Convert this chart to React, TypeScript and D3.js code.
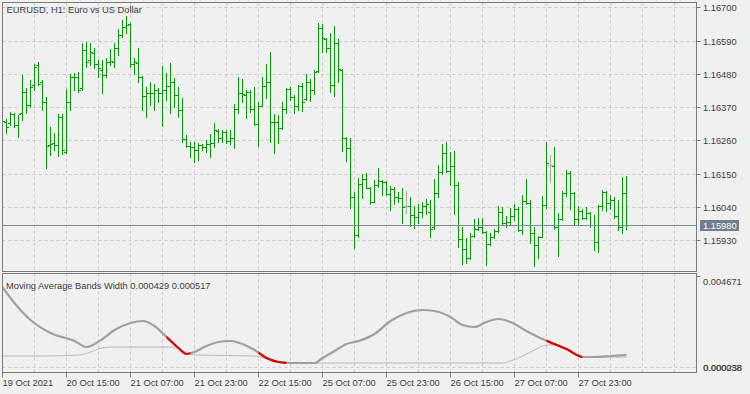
import React from "react";
import * as d3 from "d3";

const opens = [1.16316,1.16321,1.16316,1.16347,1.16310,1.16349,1.16421,1.16377,1.16443,1.16509,1.16454,1.16388,1.16244,1.16250,1.16244,1.16336,1.16222,1.16388,1.16470,1.16468,1.16432,1.16559,1.16526,1.16548,1.16514,1.16492,1.16476,1.16520,1.16520,1.16564,1.16608,1.16636,1.16645,1.16514,1.16517,1.16470,1.16406,1.16415,1.16417,1.16426,1.16415,1.16426,1.16439,1.16454,1.16410,1.16360,1.16266,1.16241,1.16239,1.16228,1.16244,1.16239,1.16247,1.16250,1.16291,1.16267,1.16289,1.16258,1.16267,1.16364,1.16416,1.16410,1.16421,1.16364,1.16313,1.16375,1.16441,1.16454,1.16320,1.16322,1.16302,1.16364,1.16430,1.16405,1.16372,1.16441,1.16397,1.16454,1.16427,1.16490,1.16633,1.16596,1.16567,1.16443,1.16581,1.16493,1.16267,1.16236,1.16074,1.15947,1.16114,1.16132,1.16103,1.16057,1.16112,1.16125,1.16121,1.16081,1.16099,1.16074,1.16070,1.16044,1.16044,1.16013,1.16007,1.16024,1.16044,1.16024,1.15974,1.16084,1.16156,1.16219,1.16159,1.16175,1.16112,1.15933,1.15899,1.15869,1.15943,1.15968,1.15974,1.15957,1.15917,1.15941,1.15961,1.16024,1.15985,1.15991,1.16009,1.16031,1.15963,1.16060,1.16053,1.15952,1.15913,1.15941,1.16046,1.16178,1.16175,1.15972,1.15998,1.16087,1.16153,1.16087,1.15998,1.16027,1.16002,1.16020,1.15980,1.15924,1.16042,1.16090,1.16053,1.16064,1.16009,1.15974,1.16084];
const highs = [1.16332,1.16329,1.16354,1.16351,1.16343,1.16476,1.16432,1.16459,1.16514,1.16518,1.16459,1.16402,1.16305,1.16283,1.16347,1.16347,1.16430,1.16481,1.16484,1.16487,1.16581,1.16586,1.16581,1.16564,1.16526,1.16526,1.16531,1.16561,1.16581,1.16630,1.16658,1.16671,1.16649,1.16531,1.16564,1.16472,1.16437,1.16454,1.16448,1.16432,1.16506,1.16484,1.16517,1.16465,1.16435,1.16399,1.16277,1.16255,1.16255,1.16250,1.16247,1.16261,1.16281,1.16316,1.16298,1.16294,1.16294,1.16294,1.16379,1.16468,1.16463,1.16427,1.16427,1.16438,1.16388,1.16471,1.16512,1.16551,1.16346,1.16344,1.16388,1.16434,1.16438,1.16410,1.16443,1.16449,1.16479,1.16463,1.16493,1.16647,1.16644,1.16598,1.16614,1.16640,1.16596,1.16496,1.16272,1.16269,1.16090,1.16134,1.16148,1.16151,1.16107,1.16129,1.16167,1.16129,1.16125,1.16110,1.16107,1.16090,1.16101,1.16092,1.16074,1.16044,1.16048,1.16057,1.16066,1.16062,1.16131,1.16178,1.16248,1.16255,1.16222,1.16226,1.16123,1.15972,1.15935,1.15954,1.15998,1.16002,1.16002,1.15960,1.15952,1.15965,1.16042,1.16040,1.16009,1.16035,1.16049,1.16038,1.16079,1.16131,1.16062,1.15972,1.15943,1.16076,1.16255,1.16211,1.16237,1.16018,1.16093,1.16162,1.16159,1.16090,1.16042,1.16031,1.16040,1.16024,1.16013,1.16046,1.16095,1.16093,1.16079,1.16073,1.16062,1.16140,1.16142];
const lows = [1.16292,1.16285,1.16310,1.16305,1.16272,1.16327,1.16349,1.16371,1.16426,1.16443,1.16360,1.16167,1.16211,1.16228,1.16208,1.16214,1.16217,1.16360,1.16426,1.16421,1.16428,1.16503,1.16509,1.16498,1.16470,1.16415,1.16470,1.16509,1.16503,1.16542,1.16603,1.16614,1.16503,1.16481,1.16454,1.16360,1.16338,1.16377,1.16362,1.16388,1.16307,1.16393,1.16351,1.16371,1.16338,1.16255,1.16239,1.16206,1.16189,1.16194,1.16228,1.16222,1.16206,1.16239,1.16254,1.16256,1.16250,1.16247,1.16234,1.16350,1.16386,1.16335,1.16353,1.16311,1.16242,1.16372,1.16401,1.16254,1.16217,1.16250,1.16298,1.16350,1.16394,1.16350,1.16361,1.16357,1.16394,1.16390,1.16412,1.16487,1.16551,1.16554,1.16419,1.16408,1.16452,1.16225,1.16192,1.16035,1.15905,1.15941,1.16070,1.16101,1.16048,1.16055,1.16107,1.16079,1.16079,1.16029,1.16048,1.16055,1.15985,1.16018,1.15978,1.15969,1.15985,1.16007,1.16015,1.15939,1.15968,1.16073,1.16150,1.16156,1.16112,1.16016,1.15906,1.15850,1.15855,1.15866,1.15941,1.15963,1.15954,1.15847,1.15913,1.15935,1.15957,1.15980,1.15974,1.15980,1.15996,1.15961,1.15950,1.16049,1.15919,1.15844,1.15869,1.15939,1.16035,1.16123,1.15968,1.15877,1.15996,1.16076,1.16031,1.15983,1.15983,1.15998,1.15998,1.15972,1.15897,1.15891,1.16029,1.16027,1.16031,1.16002,1.15963,1.15952,1.15968];
const closes = [1.16325,1.16303,1.16347,1.16310,1.16347,1.16421,1.16377,1.16437,1.16503,1.16448,1.16388,1.16241,1.16247,1.16244,1.16336,1.16228,1.16388,1.16470,1.16468,1.16426,1.16559,1.16520,1.16553,1.16514,1.16498,1.16476,1.16520,1.16523,1.16564,1.16608,1.16636,1.16641,1.16514,1.16520,1.16470,1.16406,1.16415,1.16417,1.16426,1.16415,1.16426,1.16439,1.16454,1.16410,1.16360,1.16266,1.16241,1.16239,1.16228,1.16244,1.16239,1.16247,1.16250,1.16294,1.16267,1.16289,1.16258,1.16267,1.16364,1.16416,1.16412,1.16421,1.16364,1.16313,1.16372,1.16441,1.16454,1.16320,1.16322,1.16302,1.16364,1.16430,1.16405,1.16372,1.16441,1.16386,1.16454,1.16427,1.16485,1.16633,1.16598,1.16567,1.16443,1.16581,1.16496,1.16267,1.16236,1.16074,1.15947,1.16114,1.16132,1.16103,1.16055,1.16112,1.16125,1.16121,1.16081,1.16099,1.16074,1.16070,1.16040,1.16044,1.16013,1.16007,1.16024,1.16044,1.16048,1.15968,1.16084,1.16156,1.16219,1.16159,1.16175,1.16112,1.15933,1.15899,1.15869,1.15943,1.15968,1.15974,1.15957,1.15917,1.15941,1.15961,1.16024,1.15985,1.15991,1.16009,1.16031,1.15963,1.16060,1.16053,1.15952,1.15913,1.15941,1.16046,1.16184,1.16178,1.15972,1.15998,1.16087,1.16153,1.16087,1.15998,1.16027,1.16002,1.16020,1.15980,1.15924,1.16042,1.16090,1.16053,1.16064,1.16009,1.15974,1.16084,1.15980];

const priceTicks = [1.167, 1.1659, 1.1648, 1.1637, 1.1626, 1.1615, 1.1604, 1.1593];
const timeLabels = ["19 Oct 2021","20 Oct 15:00","21 Oct 07:00","21 Oct 23:00","22 Oct 15:00","25 Oct 07:00","25 Oct 23:00","26 Oct 15:00","27 Oct 07:00","27 Oct 23:00"];

// indicator samples (bar index, value)
const bwBars = [0,3,7,12,18,21,25,28,32,35,38,41,44,46,48,51,54,57,60,63,66,69,72,78,80,83,86,89,93,97,101,105,108,112,115,118,121,124,127,131,135,138,141,145,148,152,156];
const bwValues = [0.004164,0.003392,0.002572,0.001944,0.001558,0.001269,0.001655,0.002089,0.002427,0.002523,0.002282,0.001751,0.001220,0.000931,0.001027,0.001317,0.001510,0.001558,0.001413,0.001124,0.000738,0.000545,0.000496,0.000496,0.000738,0.001076,0.001413,0.001558,0.001896,0.002523,0.002909,0.003054,0.003006,0.002716,0.002330,0.002234,0.002475,0.002620,0.002475,0.002041,0.001655,0.001413,0.001172,0.000786,0.000786,0.000834,0.000883];
const sigBars = [0,10,19,22,24,27,42,45,48,63,67,70,125,127,130,133,136,138,142,146,156];
const sigValues = [0.000834,0.000834,0.000883,0.001027,0.001172,0.001269,0.001269,0.001076,0.000883,0.000834,0.000641,0.000496,0.000496,0.000593,0.000834,0.001124,0.001365,0.001365,0.001076,0.000786,0.000786];
const redRanges = [[41, 47], [64, 71], [136, 145]];

const W = 750, H = 394;
const L = 2.5, R = 696.5, T = 2.5, MB = 271.5, LT = 273.5, LB = 372.5;
const FONT = "'Liberation Sans', Arial, sans-serif";
const FS = 9.3;
const TXT = "#3c3c3c";
const GRID = "#c8c8c8";
const FRAME = "#7a7a7a";
const BAR = "#0a960a";

export default function App() {
  const n = closes.length;
  const x = d3.scaleLinear().domain([0, n - 1]).range([2.5, 2.5 + 4 * (n - 1)]);
  const y = d3.scaleLinear().domain([1.1593, 1.167]).range([240, 7.4]);
  const yi = d3.scaleLinear().domain([0.000038, 0.004671]).range([LB, 276.5]);
  const gridBars = d3.range(8, 180, 8).filter((b) => x(b) < R);
  const lineGen = d3.line<number>().x((_, i) => x(bwBars[i])).y((v) => yi(v)).curve(d3.curveMonotoneX);
  const sigGen = d3.line<number>().x((_, i) => x(sigBars[i])).y((v) => yi(v)).curve(d3.curveMonotoneX);
  const bwPath = lineGen(bwValues) || "";
  const sigPath = sigGen(sigValues) || "";
  const last = closes[n - 1];
  const ly = Math.round(y(last)) + 0.5;

  return (
    <svg width={W} height={H} style={{ position: "absolute", left: 0, top: 0, background: "#f0f0f0" }} fontFamily={FONT} fontSize={FS}>
      <defs>
        <clipPath id="mainClip"><rect x={L} y={T} width={R - L} height={MB - T} /></clipPath>
        <clipPath id="lowClip"><rect x={L} y={LT} width={R - L} height={LB - LT} /></clipPath>
        <clipPath id="redClip">
          {redRanges.map((r, k) => (
            <rect key={k} x={x(r[0])} y={LT} width={x(r[1]) - x(r[0])} height={LB - LT} />
          ))}
        </clipPath>
      </defs>
      <rect x={0} y={0} width={W} height={H} fill="#f0f0f0" />
      {/* main grid */}
      <g stroke={GRID} strokeDasharray="3,3" strokeWidth={1}>
        {priceTicks.map((p) => (
          <line key={p} x1={L} x2={R} y1={Math.round(y(p)) + 0.5} y2={Math.round(y(p)) + 0.5} />
        ))}
        {gridBars.map((b) => (
          <line key={"m" + b} x1={x(b)} x2={x(b)} y1={T} y2={MB} />
        ))}
        {gridBars.map((b) => (
          <line key={"l" + b} x1={x(b)} x2={x(b)} y1={LT} y2={LB} />
        ))}
        <line x1={L} x2={R} y1={367.5} y2={367.5} />
      </g>
      {/* bars */}
      <g clipPath="url(#mainClip)">
        {closes.map((c, i) => {
          const cx = x(i) - 0.5;
          const yh = Math.round(y(highs[i]));
          const yl = Math.round(y(lows[i]));
          const yo = Math.round(y(opens[i]));
          const yc = Math.round(y(c));
          const col = opens[i] === c ? "#a8a8a8" : BAR;
          return (
            <g key={i} fill={col}>
              <rect x={cx} y={yh} width={1} height={Math.max(1, yl - yh + 1)} />
              <rect x={cx - 2} y={yo} width={2} height={1} />
              <rect x={cx + 1} y={yc} width={2} height={1} />
            </g>
          );
        })}
        <line x1={L} x2={R} y1={ly} y2={ly} stroke="#7d8a99" strokeWidth={1} />
      </g>
      {/* indicator */}
      <g clipPath="url(#lowClip)" fill="none">
        <path d={sigPath} stroke="#b8b8b8" strokeWidth={1} />
        <path d={bwPath} stroke="#a0a0a0" strokeWidth={2.2} />
        <path d={bwPath} stroke="#e00000" strokeWidth={2.2} clipPath="url(#redClip)" />
      </g>
      {/* frames */}
      <g fill="none" stroke={FRAME} strokeWidth={1}>
        <rect x={L} y={T} width={R - L} height={MB - T} />
        <rect x={L} y={LT} width={R - L} height={LB - LT} />
      </g>
      {/* price axis */}
      <g>
        {priceTicks.map((p) => {
          const yy = Math.round(y(p)) + 0.5;
          return (
            <g key={p}>
              <line x1={R} x2={R + 4} y1={yy} y2={yy} stroke={FRAME} />
              <text x={703} y={yy + 3.3} fill={TXT}>{p.toFixed(5)}</text>
            </g>
          );
        })}
        <rect x={700} y={ly - 5.5} width={39} height={11} fill="#6f7f90" />
        <text x={703} y={ly + 3.3} fill="#ffffff">{last.toFixed(5)}</text>
      </g>
      {/* indicator axis */}
      <g>
        <line x1={R} x2={R + 4} y1={276.5} y2={276.5} stroke={FRAME} />
        <text x={703} y={284.5} fill={TXT}>0.004671</text>
        <text x={703} y={371} fill={TXT}>0.000038</text>
        <text x={703.5} y={371} fill={TXT} opacity={0.8}>0.000258</text>
      </g>
      {/* time axis */}
      <g>
        {timeLabels.map((t, k) => {
          const xx = x(k * 16);
          return (
            <g key={t}>
              <line x1={xx} x2={xx} y1={LB} y2={LB + 5} stroke={FRAME} />
              <text x={xx} y={386} fill={TXT}>{t}</text>
            </g>
          );
        })}
      </g>
      {/* titles */}
      <text x={6.5} y={13} fill={TXT}>EURUSD, H1:  Euro vs US Dollar</text>
      <text x={6} y={288.5} fill={TXT}>Moving Average Bands Width 0.000429 0.000517</text>
    </svg>
  );
}
